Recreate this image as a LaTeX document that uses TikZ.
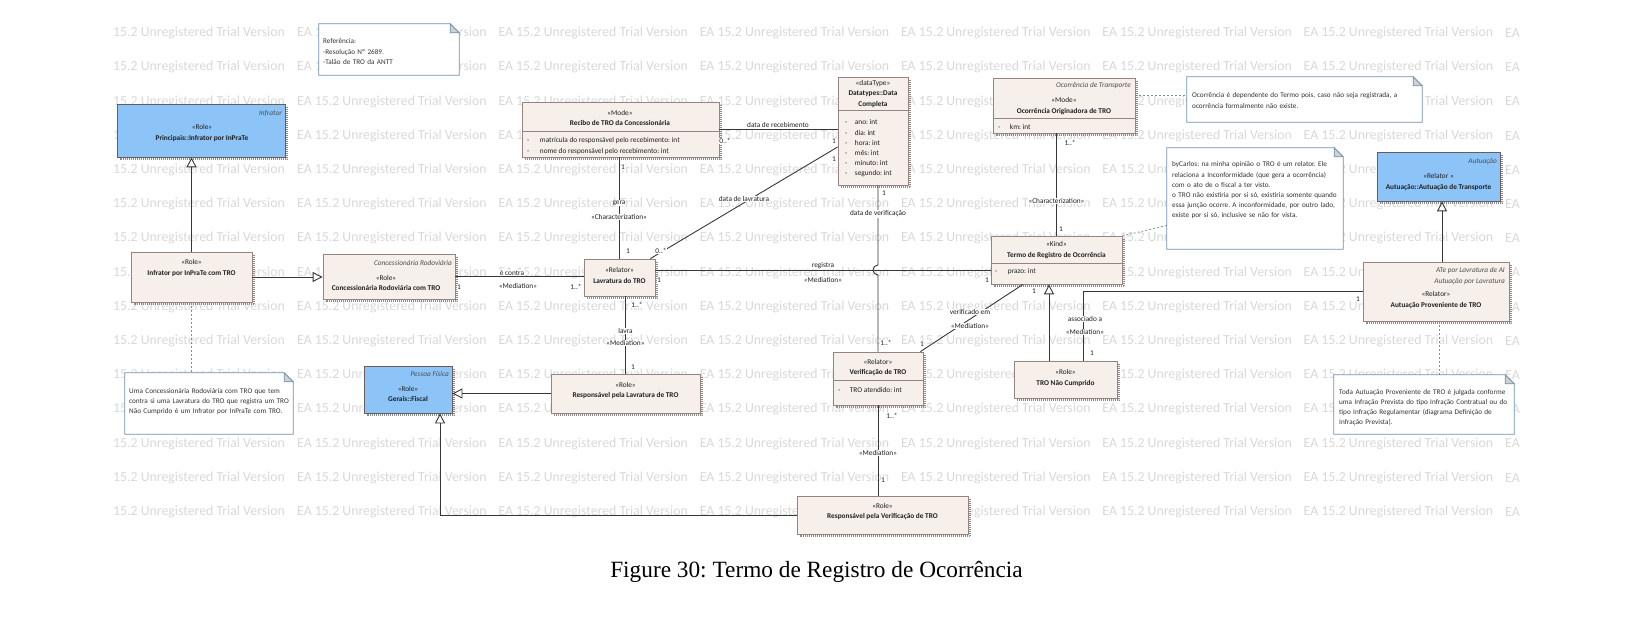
\documentclass[tikz,border=0pt]{standalone}
\usepackage{fontspec}
\setmainfont{Carlito}
\newfontfamily\captionfont{Liberation Serif}
\usetikzlibrary{positioning,arrows.meta,shapes}
\frenchspacing

\definecolor{beige}{RGB}{246,239,234}
\definecolor{boxedge}{RGB}{150,132,128}
\definecolor{roleblue}{RGB}{140,196,248}
\definecolor{noteedge}{RGB}{115,145,175}
\definecolor{trialgray}{RGB}{216,216,216}
\definecolor{linkgray}{RGB}{55,55,55}

\begin{document}
\begin{tikzpicture}[x=1pt, y=-1pt,
    every node/.style={inner sep=0pt, font=\fontsize{7.3}{10.2}\selectfont, text=black!88},
    classbox/.style={draw=boxedge, fill=beige, line width=0.8pt},
    bluebox/.style={draw=boxedge!70!black, fill=roleblue, line width=0.8pt},
    boxshadow/.style={draw=black!45, line width=2pt, dash pattern=on 1pt off 1pt},
    notearea/.style={draw=none},
    noteborder/.style={draw=noteedge, line width=0.8pt},
    notetext/.style={anchor=base west, align=left, text width=230pt, text=black!80, font=\fontsize{7.2}{10.2}\selectfont},
    nstag/.style={anchor=east, font=\fontsize{7.3}{10.2}\selectfont\itshape, text=black!70},
    attrs/.style={anchor=west, align=left},
    lbl/.style={fill=white, inner sep=0.6pt},
    assoc/.style={draw=linkgray, line width=0.9pt},
    gen/.style={assoc, -{Triangle[open, length=10pt, width=10pt]}},
    notelink/.style={draw=noteedge, line width=0.8pt, dash pattern=on 2pt off 2pt},
    trial/.style={anchor=west, font=\fontsize{13.8}{16}\selectfont, text=trialgray}
  ]
  \useasboundingbox (0,0) rectangle (1652,620);

  % trial watermark
  \foreach \r in {0,...,14} {
    \node[trial] (trialL-\r) at (113, 33+34.2*\r) {15.2 Unregistered Trial Version};
    \foreach \c in {0,...,5}
      \node[trial] (trial-\r-\c) at (297+201.3*\c, 33+34.2*\r) {EA 15.2 Unregistered Trial Version};
    \node[trial] (trialR-\r) at (1505, 33+34.2*\r) {EA};
  }

  % notes
  \node[notearea, minimum width=140pt, minimum height=51pt] (refnote) at (389,49.5) {};
  \node[notearea, minimum width=235pt, minimum height=45pt] (ocornote) at (1304.5,99.5) {};
  \node[notearea, minimum width=176pt, minimum height=101pt] (carlosnote) at (1255,198.5) {};
  \node[notearea, minimum width=168pt, minimum height=61pt] (infnote) at (209,403.5) {};
  \node[notearea, minimum width=180pt, minimum height=59pt] (autnote) at (1424,404.5) {};
  \foreach \n in {refnote,ocornote,carlosnote,infnote,autnote} {
    \draw[noteborder, fill=white] (\n.north west) -- ([xshift=-9pt]\n.north east) -- ([yshift=-9pt]\n.north east) -- (\n.south east) -- (\n.south west) -- cycle;
    \draw[noteborder, fill=black!18] ([xshift=-9pt]\n.north east) -- ([xshift=-9pt,yshift=-9pt]\n.north east) -- ([yshift=-9pt]\n.north east) -- cycle;
  }
  \node[notetext] (refnoteText) at (323,44) {Referência:\\-Resolução Nº 2689.\\-Talão de TRO da ANTT};
  \node[notetext] (ocornoteText) at (1192,98) {Ocorrência é dependente do Termo pois, caso não seja registrada, a\\ocorrência formalmente não existe.};
  \node[notetext] (carlosnoteText) at (1172,167) {byCarlos: na minha opinião o TRO é um relator. Ele\\relaciona a Inconformidade (que gera a ocorrência)\\com o ato de o fiscal a ter visto.\\o TRO não existiria por si só, existiria somente quando\\essa junção ocorre. A inconformidade, por outro lado,\\existe por si só, inclusive se não for vista.};
  \node[notetext] (infnoteText) at (129,393) {Uma Concessionária Rodoviária com TRO que tem\\contra si uma Lavratura do TRO que registra um TRO\\Não Cumprido é um Infrator por InPraTe com TRO.};
  \node[notetext] (autnoteText) at (1339,394) {Toda Autuação Proveniente de TRO é julgada conforme\\uma Infração Prevista do tipo Infração Contratual ou do\\tipo Infração Regulamentar (diagrama Definição de\\Infração Prevista).};

  % note links
  \coordinate (ocorLink) at (1135,95.5);
  \draw[notelink] (ocorLink) -- (ocorLink -| ocornote.west);
  \draw[notelink] (1122,236) -- ([yshift=-27pt]carlosnote.west);
  \draw[notelink] (191.5,302) -- (191.5,0 |- infnote.north);
  \draw[notelink] (1439,321) -- (1439,0 |- autnote.north);

  % classes
  \node[bluebox, minimum width=168pt, minimum height=53pt] (infrator) at (201,130.5) {};
  \node[classbox, minimum width=121pt, minimum height=50pt] (infcom) at (191.5,277) {};
  \node[classbox, minimum width=132pt, minimum height=45pt] (conc) at (389,276.5) {};
  \node[classbox, minimum width=197pt, minimum height=55pt] (recibo) at (620.5,129.5) {};
  \node[classbox, minimum width=70pt, minimum height=108pt] (dtype) at (873,131) {};
  \node[classbox, minimum width=71pt, minimum height=37pt] (lav) at (619.5,277.5) {};
  \node[classbox, minimum width=142pt, minimum height=55pt] (ocorr) at (1064,105.5) {};
  \node[classbox, minimum width=131pt, minimum height=48pt] (termo) at (1056.5,260) {};
  \node[bluebox, minimum width=88pt, minimum height=47pt] (fiscal) at (408,389.5) {};
  \node[classbox, minimum width=149pt, minimum height=39pt] (resplav) at (625.5,393.5) {};
  \node[classbox, minimum width=90pt, minimum height=53pt] (verif) at (878,378.5) {};
  \node[classbox, minimum width=103pt, minimum height=37pt] (tronc) at (1065.5,379.5) {};
  \node[bluebox, minimum width=123pt, minimum height=49pt] (aut) at (1438.5,176.5) {};
  \node[classbox, minimum width=146pt, minimum height=59pt] (autprov) at (1436,291.5) {};
  \node[classbox, minimum width=171pt, minimum height=38pt] (resverif) at (882.5,515) {};
  \foreach \b in {infrator,infcom,conc,recibo,dtype,lav,ocorr,termo,fiscal,resplav,verif,tronc,aut,autprov,resverif}
    \draw[boxshadow] ([xshift=2pt,yshift=-3pt]\b.north east) -- ([xshift=2pt,yshift=-2pt]\b.south east) -- ([xshift=3pt,yshift=-2pt]\b.south west);

  % compartments
  \draw[draw=boxedge, line width=0.6pt] ([yshift=-30pt]recibo.north west) -- ([yshift=-30pt]recibo.north east);
  \draw[draw=boxedge, line width=0.6pt] ([yshift=-34pt]dtype.north west) -- ([yshift=-34pt]dtype.north east);
  \draw[draw=boxedge, line width=0.6pt] ([yshift=-41pt]ocorr.north west) -- ([yshift=-41pt]ocorr.north east);
  \draw[draw=boxedge, line width=0.6pt] ([yshift=-28pt]termo.north west) -- ([yshift=-28pt]termo.north east);
  \draw[draw=boxedge, line width=0.6pt] ([yshift=-29pt]verif.north west) -- ([yshift=-29pt]verif.north east);

  % class texts
  \node[nstag] (infratorTag) at (282,113) {Infrator};
  \node[align=center] (infratorText) at (202,133) {«Role»\\\textbf{Principais::Infrator por InPraTe}};
  \node[align=center] (infcomText) at (191.5,268) {«Role»\\\textbf{Infrator por InPraTe com TRO}};
  \node[nstag] (concTag) at (452,263) {Concessionária Rodoviária};
  \node[align=center] (concText) at (386,283) {«Role»\\\textbf{Concessionária Rodoviária com TRO}};
  \node[align=center] (reciboText) at (620,118) {«Mode»\\\textbf{Recibo de TRO da Concessionária}};
  \node[attrs] (reciboAttr) at (527,146) {-\hspace{10.5pt}matrícula do responsável pelo recebimento: int\\-\hspace{10.5pt}nome do responsável pelo recebimento: int};
  \node[align=center] (dtypeText) at (873,94) {«dataType»\\\textbf{Datatypes::Data}\\\textbf{Completa}};
  \node[attrs] (dtypeAttr) at (845,148.5) {-\hspace{7.5pt}ano: int\\-\hspace{7.5pt}dia: int\\-\hspace{7.5pt}hora: int\\-\hspace{7.5pt}mês: int\\-\hspace{7.5pt}minuto: int\\-\hspace{7.5pt}segundo: int};
  \node[align=center] (lavText) at (619.5,275.5) {«Relator»\\\textbf{Lavratura do TRO}};
  \node[nstag] (ocorrTag) at (1131,86) {Ocorrência de Transporte};
  \node[align=center] (ocorrText) at (1064,106) {«Mode»\\\textbf{Ocorrência Originadora de TRO}};
  \node[attrs] (ocorrAttr) at (998,126.5) {-\hspace{9.5pt}km: int};
  \node[align=center] (termoText) at (1056.5,250) {«Kind»\\\textbf{Termo de Registro de Ocorrência}};
  \node[attrs] (termoAttr) at (995,272) {-\hspace{10.5pt}prazo: int};
  \node[nstag] (fiscalTag) at (449,374) {Pessoa Física};
  \node[align=center] (fiscalText) at (408,394) {«Role»\\\textbf{Gerais::Fiscal}};
  \node[align=center] (resplavText) at (625.5,390.5) {«Role»\\\textbf{Responsável pela Lavratura de TRO}};
  \node[align=center] (verifText) at (878,367.5) {«Relator»\\\textbf{Verificação de TRO}};
  \node[attrs] (verifAttr) at (838,390) {-\hspace{9.5pt}TRO atendido: int};
  \node[align=center] (troncText) at (1065.5,378) {«Role»\\\textbf{TRO Não Cumprido}};
  \node[nstag] (autTag) at (1497,162) {Autuação};
  \node[align=center] (autText) at (1438.5,182) {«Relator »\\\textbf{Autuação::Autuação de Transporte}};
  \node[nstag, align=right] (autprovTag) at (1505,276) {ATe por Lavratura de AI\\Autuação por Lavratura};
  \node[align=center] (autprovText) at (1436,300) {«Relator»\\\textbf{Autuação Proveniente de TRO}};
  \node[align=center] (resverifText) at (882.5,511.5) {«Role»\\\textbf{Responsável pela Verificação de TRO}};

  % generalizations
  \draw[gen] (infcom.north) -- (infcom.north |- infrator.south);
  \draw[gen] (infcom.east) -- (infcom.east -| conc.west);
  \draw[gen] (resplav.west) -- (resplav.west -| fiscal.east);
  \draw[gen] (resverif.west) -| ([xshift=32pt]fiscal.south);
  \draw[gen] ([xshift=-16.5pt]tronc.north) -- ([xshift=-16.5pt]tronc.north |- termo.south);
  \draw[gen] ([xshift=6pt]autprov.north) -- ([xshift=6pt]autprov.north |- aut.south);

  % associations
  \draw[assoc] (conc.east) -- (conc.east -| lav.west);
  \coordinate (regA) at ([yshift=7.5pt]lav.east);
  \draw[assoc] (regA) -- (regA -| termo.west);
  \draw[assoc] (lav.north |- recibo.south) -- (lav.north);
  \draw[assoc] (recibo.east) -- (recibo.east -| dtype.west);
  \draw[assoc] ([xshift=-5pt]lav.north east) -- ([yshift=-16pt]dtype.west);
  \coordinate (hopC) at (verif.north |- regA);
  \draw[assoc] (verif.north |- dtype.south) -- ([yshift=5pt]hopC) arc[start angle=90, end angle=270, radius=5pt] -- (verif.north);
  \draw[assoc] (verif.south) -- (verif.south |- resverif.north);
  \draw[assoc] (resplav.north |- lav.south) -- (resplav.north);
  \draw[assoc] (termo.north |- ocorr.south) -- (termo.north);
  \draw[assoc] ([xshift=-33.5pt]termo.south) -- ([xshift=-3pt]verif.north east);
  \draw[assoc] ([xshift=17.5pt]tronc.north) |- (autprov.west);

  % connector labels
  \node[lbl] (mEcontraA) at (459,287) {1};
  \node[lbl] (lEcontra) at (512,273) {é contra};
  \node[lbl] (sEcontra) at (518,286) {«Mediation»};
  \node[lbl] (mEcontraB) at (576,287) {1..*};
  \node[lbl] (mGeraA) at (623,167) {1};
  \node[lbl] (lGera) at (619,203) {gera};
  \node[lbl] (sGera) at (619,217) {«Characterization»};
  \node[lbl] (mGeraB) at (628,251) {1};
  \node[lbl] (lRecebe) at (778,125) {data de recebimento};
  \node[lbl] (mRecebeA) at (725,141) {0..*};
  \node[lbl] (mRecebeB) at (834,141) {1};
  \node[lbl] (lLavra) at (744,199) {data de lavratura};
  \node[lbl] (mLavraA) at (661,251) {0..*};
  \node[lbl] (mLavraB) at (834,159) {1};
  \node[lbl] (mVerifA) at (884,193) {1};
  \node[lbl] (lVerif) at (878,214) {data de verificação};
  \node[lbl] (mVerifB) at (886,343) {1..*};
  \node[lbl] (lRegistra) at (823,265.5) {registra};
  \node[lbl] (sRegistra) at (823,280) {«Mediation»};
  \node[lbl] (mRegistraA) at (659,280) {1};
  \node[lbl] (mRegistraB) at (987,280) {1};
  \node[lbl] (mOcorA) at (1070,143) {1..*};
  \node[lbl] (sOcor) at (1056.5,201) {«Characterization»};
  \node[lbl] (mOcorB) at (1061,229) {1};
  \node[lbl] (lVerificado) at (970,312) {verificado em};
  \node[lbl] (sVerificado) at (970,326) {«Mediation»};
  \node[lbl] (mVerificadoA) at (1034,291) {1};
  \node[lbl] (mVerificadoB) at (922,344) {1};
  \node[lbl] (lAssoc) at (1085,319) {associado a};
  \node[lbl] (sAssoc) at (1085,332) {«Mediation»};
  \node[lbl] (mAssocA) at (1092,353) {1};
  \node[lbl] (mAssocB) at (1358,299) {1};
  \node[lbl] (mLavraRespA) at (637,305) {1..*};
  \node[lbl] (lLavraResp) at (625.5,331) {lavra};
  \node[lbl] (sLavraResp) at (625.5,343) {«Mediation»};
  \node[lbl] (mLavraRespB) at (633,367) {1};
  \node[lbl] (mRespVerA) at (892,416) {1..*};
  \node[lbl] (sRespVer) at (878,453) {«Mediation»};
  \node[lbl] (mRespVerB) at (883,480) {1};

  % caption
  \node[font=\captionfont\fontsize{23.3}{28}\selectfont, text=black] (caption) at (816.5,572) {Figure 30: Termo de Registro de Ocorrência};
\end{tikzpicture}
\end{document}
